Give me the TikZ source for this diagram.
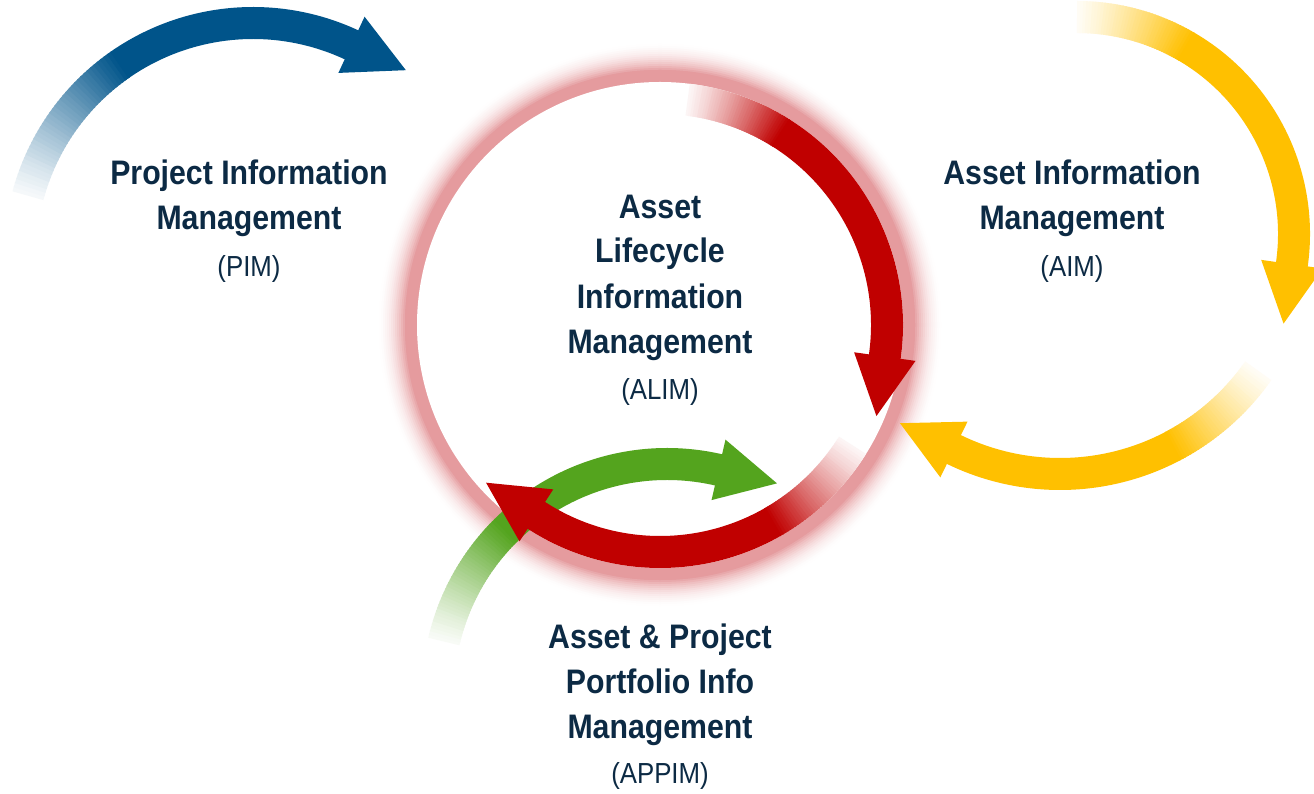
\documentclass[tikz,border=0pt]{standalone}
\usepackage{fontspec}
\setmainfont{Liberation Sans}[FakeStretch=0.89]
\usetikzlibrary{calc}
\definecolor{txt}{RGB}{12,42,68}
\definecolor{cblue}{RGB}{0,84,138}
\definecolor{cred}{RGB}{192,0,0}
\definecolor{cgreen}{RGB}{84,164,30}
\definecolor{cyellow}{RGB}{255,192,0}
\definecolor{cglow}{RGB}{229,155,158}
% #1 centre, #2 radius, #3 fade start angle, #4 full colour angle, #5 shaft end angle, #6 colour
\newcommand\fadearc[6]{%
  \foreach \i in {0,...,39}{%
    \pgfmathsetmacro\aA{#3+(#4-#3)*\i/40}%
    \pgfmathsetmacro\aB{#3+(#4-#3)*(\i+1)/40-0.4}%
    \pgfmathtruncatemacro\pc{4+96*((\i+0.5)/40)^1.2}%
    \draw[line width=32, color=#6!\pc!white] ($(#1)+(\aA:#2)$) arc[start angle=\aA, end angle=\aB, radius=#2];
  }%
  \draw[line width=32, color=#6] ($(#1)+(#4:#2)$) arc[start angle=#4, end angle={#5-1}, radius=#2];
  \fill[#6] ($(#1)+(#5:{#2-31})$) -- ($(#1)+(#5:{#2+31})$) -- ($(#1)+(#5:#2)+({#5-90}:60)$) -- cycle;
}
\tikzset{
  tb/.style={font=\bfseries\fontsize{34}{40}\selectfont, text=txt, anchor=base, inner sep=0pt},
  ta/.style={font=\fontsize{29}{35}\selectfont, text=txt, anchor=base, inner sep=0pt}
}
\begin{document}
\begin{tikzpicture}[x=1pt,y=1pt]
\useasboundingbox (0,0) rectangle (1314,793);
\fill[white] (0,0) rectangle (1314,793);
\coordinate (cC) at (660,468);
\coordinate (cB) at (253,537);
\coordinate (cG) at (667,100);
\coordinate (cY1) at (1077,559);
\coordinate (cY2) at (1060,561);
% glow ring
\foreach \k in {0,...,14}{%
  \pgfmathsetmacro\rr{283-2*\k}%
  \pgfmathtruncatemacro\pp{100*((\k+1)/15)^2}%
  \fill[cglow!\pp!white] (cC) circle[radius=\rr];
}
\fill[cglow] (cC) circle[radius=255];
\fill[white] (cC) circle[radius=243];
% arcs
\fadearc{cB}{233}{165}{125}{65}{cblue}
\fadearc{cY1}{217}{90}{60}{-8}{cyellow}
\fadearc{cY2}{242}{-35}{-62}{-116}{cyellow}
\fadearc{cG}{229}{167}{135}{77}{cgreen}
\fadearc{cC}{227}{83}{58}{-8}{cred}
\fadearc{cC}{227}{-32}{-60}{-123}{cred}
% texts
\node[tb] (pim1) at (249,608) {Project Information};
\node[tb] (pim2) at (249,563) {Management};
\node[ta] (pim3) at (249,516) {(PIM)};
\node[tb] (aim1) at (1072,608) {Asset Information};
\node[tb] (aim2) at (1072,563) {Management};
\node[ta] (aim3) at (1072,516) {(AIM)};
\node[tb] (alim1) at (660,574) {Asset};
\node[tb] (alim2) at (660,530) {Lifecycle};
\node[tb] (alim3) at (660,484) {Information};
\node[tb] (alim4) at (660,439) {Management};
\node[ta] (alim5) at (660,393) {(ALIM)};
\node[tb] (ap1) at (660,145) {Asset \& Project};
\node[tb] (ap2) at (660,100) {Portfolio Info};
\node[tb] (ap3) at (660,55) {Management};
\node[ta] (ap4) at (660,10) {(APPIM)};
\end{tikzpicture}
\end{document}
